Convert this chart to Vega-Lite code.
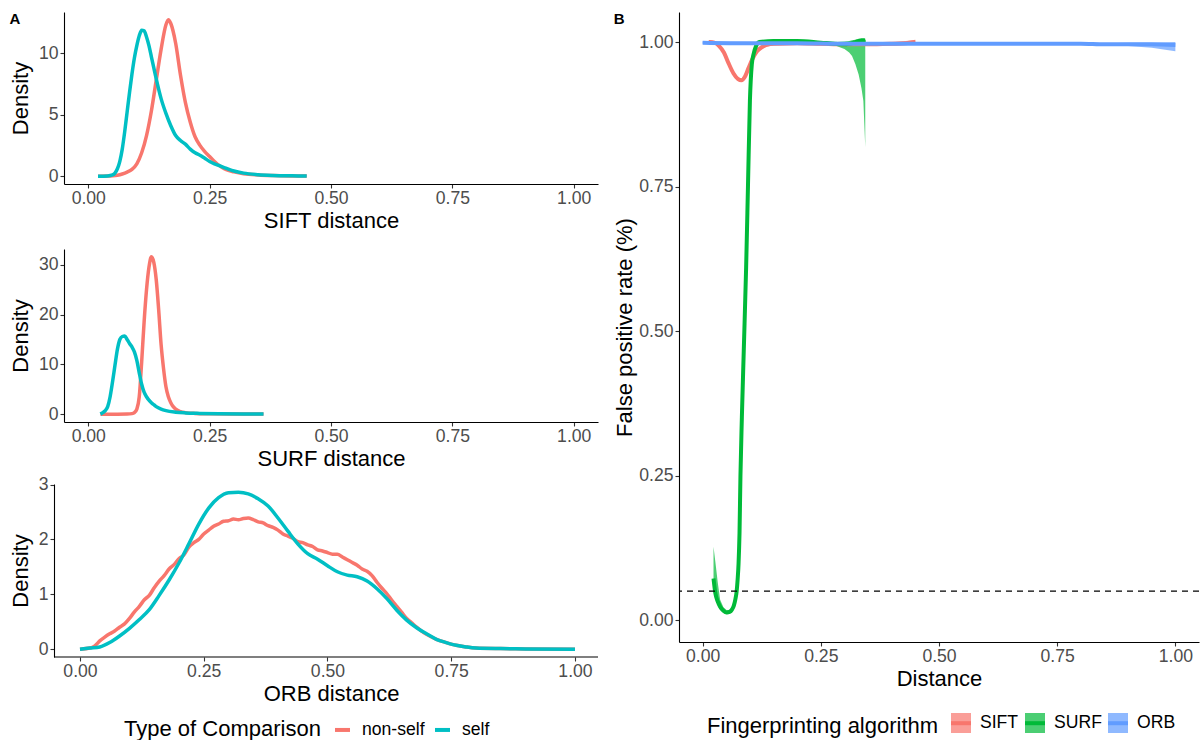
{
  "$schema": "https://vega.github.io/schema/vega-lite/v6.json",
  "padding": {"left": 9, "top": 12, "right": 0, "bottom": 0},
  "autosize": {"type": "pad"},
  "config": {
    "view": {"stroke": null},
    "font": "Liberation Sans",
    "axis": {"grid": false, "domainColor": "#000000", "domainWidth": 1.1, "tickColor": "#333333", "tickWidth": 1.1, "tickSize": 4, "labelFontSize": 17.6, "labelColor": "#4D4D4D", "labelFont": "Liberation Sans", "titleFont": "Liberation Sans", "titleFontSize": 22, "titleFontWeight": "normal", "titleColor": "#000000"},
    "axisX": {"labelPadding": 1, "titlePadding": 4},
    "axisY": {"labelPadding": 2, "titlePadding": 6},
    "legend": {"labelFont": "Liberation Sans", "labelFontSize": 17.6, "labelColor": "#000000", "titleFont": "Liberation Sans", "titleFontSize": 22, "titleFontWeight": "normal", "titleColor": "#000000", "titleLimit": 400, "labelLimit": 200},
    "title": {"font": "Liberation Sans", "fontSize": 15, "fontWeight": "bold", "color": "#000000", "anchor": "start", "frame": "bounds", "offset": -15}
  },
  "datasets": {
    "sift": [
      {"type": "non-self", "d": 0.02, "density": 0}, {"type": "non-self", "d": 0.04, "density": 0.01}, {"type": "non-self", "d": 0.05, "density": 0.03}, {"type": "non-self", "d": 0.06, "density": 0.08}, {"type": "non-self", "d": 0.07, "density": 0.18}, {"type": "non-self", "d": 0.08, "density": 0.33}, {"type": "non-self", "d": 0.09, "density": 0.55}, {"type": "non-self", "d": 0.1, "density": 1.0}, {"type": "non-self", "d": 0.11, "density": 1.9}, {"type": "non-self", "d": 0.12, "density": 3.3}, {"type": "non-self", "d": 0.13, "density": 5.3}, {"type": "non-self", "d": 0.14, "density": 7.8}, {"type": "non-self", "d": 0.15, "density": 10.3}, {"type": "non-self", "d": 0.16, "density": 12.3}, {"type": "non-self", "d": 0.165, "density": 12.7}, {"type": "non-self", "d": 0.17, "density": 12.4}, {"type": "non-self", "d": 0.18, "density": 10.8}, {"type": "non-self", "d": 0.19, "density": 8.2}, {"type": "non-self", "d": 0.2, "density": 6.0}, {"type": "non-self", "d": 0.21, "density": 4.4}, {"type": "non-self", "d": 0.22, "density": 3.2}, {"type": "non-self", "d": 0.23, "density": 2.5}, {"type": "non-self", "d": 0.24, "density": 2.0}, {"type": "non-self", "d": 0.25, "density": 1.6}, {"type": "non-self", "d": 0.26, "density": 1.2}, {"type": "non-self", "d": 0.27, "density": 0.85}, {"type": "non-self", "d": 0.28, "density": 0.6}, {"type": "non-self", "d": 0.29, "density": 0.45}, {"type": "non-self", "d": 0.3, "density": 0.35}, {"type": "non-self", "d": 0.32, "density": 0.2}, {"type": "non-self", "d": 0.35, "density": 0.1}, {"type": "non-self", "d": 0.38, "density": 0.05}, {"type": "non-self", "d": 0.42, "density": 0.02}, {"type": "non-self", "d": 0.45, "density": 0.01},
      {"type": "self", "d": 0.02, "density": 0}, {"type": "self", "d": 0.04, "density": 0.02}, {"type": "self", "d": 0.05, "density": 0.1}, {"type": "self", "d": 0.055, "density": 0.25}, {"type": "self", "d": 0.06, "density": 0.6}, {"type": "self", "d": 0.065, "density": 1.2}, {"type": "self", "d": 0.07, "density": 2.2}, {"type": "self", "d": 0.075, "density": 3.6}, {"type": "self", "d": 0.08, "density": 5.2}, {"type": "self", "d": 0.085, "density": 6.8}, {"type": "self", "d": 0.09, "density": 8.3}, {"type": "self", "d": 0.095, "density": 9.6}, {"type": "self", "d": 0.1, "density": 10.6}, {"type": "self", "d": 0.105, "density": 11.4}, {"type": "self", "d": 0.11, "density": 11.85}, {"type": "self", "d": 0.115, "density": 11.8}, {"type": "self", "d": 0.12, "density": 11.3}, {"type": "self", "d": 0.125, "density": 10.6}, {"type": "self", "d": 0.13, "density": 9.7}, {"type": "self", "d": 0.135, "density": 8.8}, {"type": "self", "d": 0.14, "density": 7.9}, {"type": "self", "d": 0.15, "density": 6.3}, {"type": "self", "d": 0.16, "density": 5.1}, {"type": "self", "d": 0.17, "density": 4.1}, {"type": "self", "d": 0.18, "density": 3.3}, {"type": "self", "d": 0.19, "density": 2.9}, {"type": "self", "d": 0.2, "density": 2.6}, {"type": "self", "d": 0.21, "density": 2.2}, {"type": "self", "d": 0.22, "density": 1.9}, {"type": "self", "d": 0.23, "density": 1.7}, {"type": "self", "d": 0.24, "density": 1.45}, {"type": "self", "d": 0.25, "density": 1.2}, {"type": "self", "d": 0.26, "density": 1.0}, {"type": "self", "d": 0.27, "density": 0.85}, {"type": "self", "d": 0.28, "density": 0.7}, {"type": "self", "d": 0.29, "density": 0.55}, {"type": "self", "d": 0.3, "density": 0.42}, {"type": "self", "d": 0.32, "density": 0.25}, {"type": "self", "d": 0.35, "density": 0.12}, {"type": "self", "d": 0.38, "density": 0.06}, {"type": "self", "d": 0.42, "density": 0.03}, {"type": "self", "d": 0.45, "density": 0.02}
    ],
    "surf": [
      {"type": "non-self", "d": 0.025, "density": 0}, {"type": "non-self", "d": 0.06, "density": 0}, {"type": "non-self", "d": 0.08, "density": 0.02}, {"type": "non-self", "d": 0.09, "density": 0.1}, {"type": "non-self", "d": 0.095, "density": 0.3}, {"type": "non-self", "d": 0.1, "density": 1.0}, {"type": "non-self", "d": 0.105, "density": 3.5}, {"type": "non-self", "d": 0.11, "density": 10.5}, {"type": "non-self", "d": 0.115, "density": 18.5}, {"type": "non-self", "d": 0.12, "density": 25}, {"type": "non-self", "d": 0.125, "density": 29.5}, {"type": "non-self", "d": 0.13, "density": 31.6}, {"type": "non-self", "d": 0.135, "density": 30.5}, {"type": "non-self", "d": 0.14, "density": 27}, {"type": "non-self", "d": 0.145, "density": 21}, {"type": "non-self", "d": 0.15, "density": 14}, {"type": "non-self", "d": 0.155, "density": 9.2}, {"type": "non-self", "d": 0.16, "density": 5.5}, {"type": "non-self", "d": 0.165, "density": 3.5}, {"type": "non-self", "d": 0.17, "density": 2.3}, {"type": "non-self", "d": 0.175, "density": 1.5}, {"type": "non-self", "d": 0.18, "density": 1.0}, {"type": "non-self", "d": 0.19, "density": 0.5}, {"type": "non-self", "d": 0.2, "density": 0.3}, {"type": "non-self", "d": 0.22, "density": 0.15}, {"type": "non-self", "d": 0.25, "density": 0.08}, {"type": "non-self", "d": 0.3, "density": 0.03}, {"type": "non-self", "d": 0.361, "density": 0.01},
      {"type": "self", "d": 0.025, "density": 0}, {"type": "self", "d": 0.03, "density": 0.3}, {"type": "self", "d": 0.035, "density": 0.7}, {"type": "self", "d": 0.04, "density": 1.5}, {"type": "self", "d": 0.045, "density": 3.5}, {"type": "self", "d": 0.05, "density": 6.5}, {"type": "self", "d": 0.055, "density": 9.8}, {"type": "self", "d": 0.06, "density": 13}, {"type": "self", "d": 0.065, "density": 15}, {"type": "self", "d": 0.07, "density": 15.6}, {"type": "self", "d": 0.075, "density": 15.7}, {"type": "self", "d": 0.08, "density": 15}, {"type": "self", "d": 0.085, "density": 14.2}, {"type": "self", "d": 0.09, "density": 13.5}, {"type": "self", "d": 0.095, "density": 12.5}, {"type": "self", "d": 0.1, "density": 10.8}, {"type": "self", "d": 0.105, "density": 8.3}, {"type": "self", "d": 0.11, "density": 6.0}, {"type": "self", "d": 0.115, "density": 4.4}, {"type": "self", "d": 0.12, "density": 3.5}, {"type": "self", "d": 0.125, "density": 2.8}, {"type": "self", "d": 0.13, "density": 2.3}, {"type": "self", "d": 0.135, "density": 1.9}, {"type": "self", "d": 0.14, "density": 1.5}, {"type": "self", "d": 0.15, "density": 1.0}, {"type": "self", "d": 0.16, "density": 0.7}, {"type": "self", "d": 0.18, "density": 0.4}, {"type": "self", "d": 0.2, "density": 0.25}, {"type": "self", "d": 0.23, "density": 0.15}, {"type": "self", "d": 0.27, "density": 0.08}, {"type": "self", "d": 0.32, "density": 0.03}, {"type": "self", "d": 0.361, "density": 0.01}
    ],
    "orb": [
      {"type": "non-self", "d": 0.0, "density": 0}, {"type": "non-self", "d": 0.02, "density": 0.02}, {"type": "non-self", "d": 0.03, "density": 0.06}, {"type": "non-self", "d": 0.04, "density": 0.15}, {"type": "non-self", "d": 0.05, "density": 0.22}, {"type": "non-self", "d": 0.06, "density": 0.28}, {"type": "non-self", "d": 0.07, "density": 0.33}, {"type": "non-self", "d": 0.08, "density": 0.4}, {"type": "non-self", "d": 0.09, "density": 0.46}, {"type": "non-self", "d": 0.1, "density": 0.56}, {"type": "non-self", "d": 0.11, "density": 0.68}, {"type": "non-self", "d": 0.12, "density": 0.78}, {"type": "non-self", "d": 0.13, "density": 0.9}, {"type": "non-self", "d": 0.14, "density": 0.98}, {"type": "non-self", "d": 0.15, "density": 1.12}, {"type": "non-self", "d": 0.16, "density": 1.24}, {"type": "non-self", "d": 0.17, "density": 1.34}, {"type": "non-self", "d": 0.18, "density": 1.46}, {"type": "non-self", "d": 0.19, "density": 1.54}, {"type": "non-self", "d": 0.2, "density": 1.65}, {"type": "non-self", "d": 0.21, "density": 1.72}, {"type": "non-self", "d": 0.22, "density": 1.86}, {"type": "non-self", "d": 0.23, "density": 1.94}, {"type": "non-self", "d": 0.24, "density": 2.0}, {"type": "non-self", "d": 0.25, "density": 2.1}, {"type": "non-self", "d": 0.26, "density": 2.17}, {"type": "non-self", "d": 0.27, "density": 2.24}, {"type": "non-self", "d": 0.28, "density": 2.28}, {"type": "non-self", "d": 0.29, "density": 2.33}, {"type": "non-self", "d": 0.3, "density": 2.34}, {"type": "non-self", "d": 0.31, "density": 2.37}, {"type": "non-self", "d": 0.32, "density": 2.36}, {"type": "non-self", "d": 0.33, "density": 2.38}, {"type": "non-self", "d": 0.34, "density": 2.39}, {"type": "non-self", "d": 0.35, "density": 2.36}, {"type": "non-self", "d": 0.36, "density": 2.32}, {"type": "non-self", "d": 0.37, "density": 2.3}, {"type": "non-self", "d": 0.38, "density": 2.25}, {"type": "non-self", "d": 0.39, "density": 2.22}, {"type": "non-self", "d": 0.4, "density": 2.17}, {"type": "non-self", "d": 0.41, "density": 2.1}, {"type": "non-self", "d": 0.42, "density": 2.06}, {"type": "non-self", "d": 0.43, "density": 2.02}, {"type": "non-self", "d": 0.44, "density": 1.96}, {"type": "non-self", "d": 0.45, "density": 1.94}, {"type": "non-self", "d": 0.46, "density": 1.9}, {"type": "non-self", "d": 0.47, "density": 1.87}, {"type": "non-self", "d": 0.48, "density": 1.81}, {"type": "non-self", "d": 0.49, "density": 1.79}, {"type": "non-self", "d": 0.5, "density": 1.76}, {"type": "non-self", "d": 0.51, "density": 1.73}, {"type": "non-self", "d": 0.52, "density": 1.73}, {"type": "non-self", "d": 0.53, "density": 1.68}, {"type": "non-self", "d": 0.54, "density": 1.63}, {"type": "non-self", "d": 0.55, "density": 1.58}, {"type": "non-self", "d": 0.56, "density": 1.53}, {"type": "non-self", "d": 0.57, "density": 1.46}, {"type": "non-self", "d": 0.58, "density": 1.42}, {"type": "non-self", "d": 0.59, "density": 1.34}, {"type": "non-self", "d": 0.6, "density": 1.22}, {"type": "non-self", "d": 0.61, "density": 1.11}, {"type": "non-self", "d": 0.62, "density": 1.01}, {"type": "non-self", "d": 0.63, "density": 0.89}, {"type": "non-self", "d": 0.64, "density": 0.78}, {"type": "non-self", "d": 0.65, "density": 0.67}, {"type": "non-self", "d": 0.66, "density": 0.56}, {"type": "non-self", "d": 0.67, "density": 0.48}, {"type": "non-self", "d": 0.68, "density": 0.4}, {"type": "non-self", "d": 0.69, "density": 0.33}, {"type": "non-self", "d": 0.7, "density": 0.27}, {"type": "non-self", "d": 0.72, "density": 0.18}, {"type": "non-self", "d": 0.74, "density": 0.12}, {"type": "non-self", "d": 0.76, "density": 0.07}, {"type": "non-self", "d": 0.78, "density": 0.04}, {"type": "non-self", "d": 0.8, "density": 0.02}, {"type": "non-self", "d": 0.85, "density": 0.01}, {"type": "non-self", "d": 0.9, "density": 0.005}, {"type": "non-self", "d": 1.0, "density": 0},
      {"type": "self", "d": 0.0, "density": 0}, {"type": "self", "d": 0.02, "density": 0.02}, {"type": "self", "d": 0.04, "density": 0.04}, {"type": "self", "d": 0.06, "density": 0.12}, {"type": "self", "d": 0.08, "density": 0.24}, {"type": "self", "d": 0.1, "density": 0.38}, {"type": "self", "d": 0.12, "density": 0.54}, {"type": "self", "d": 0.14, "density": 0.72}, {"type": "self", "d": 0.16, "density": 0.98}, {"type": "self", "d": 0.18, "density": 1.26}, {"type": "self", "d": 0.2, "density": 1.57}, {"type": "self", "d": 0.22, "density": 1.92}, {"type": "self", "d": 0.24, "density": 2.28}, {"type": "self", "d": 0.26, "density": 2.57}, {"type": "self", "d": 0.28, "density": 2.76}, {"type": "self", "d": 0.3, "density": 2.85}, {"type": "self", "d": 0.32, "density": 2.86}, {"type": "self", "d": 0.34, "density": 2.83}, {"type": "self", "d": 0.36, "density": 2.74}, {"type": "self", "d": 0.38, "density": 2.61}, {"type": "self", "d": 0.4, "density": 2.39}, {"type": "self", "d": 0.42, "density": 2.15}, {"type": "self", "d": 0.44, "density": 1.92}, {"type": "self", "d": 0.46, "density": 1.74}, {"type": "self", "d": 0.48, "density": 1.64}, {"type": "self", "d": 0.5, "density": 1.52}, {"type": "self", "d": 0.52, "density": 1.41}, {"type": "self", "d": 0.54, "density": 1.35}, {"type": "self", "d": 0.56, "density": 1.32}, {"type": "self", "d": 0.58, "density": 1.24}, {"type": "self", "d": 0.6, "density": 1.1}, {"type": "self", "d": 0.62, "density": 0.92}, {"type": "self", "d": 0.64, "density": 0.71}, {"type": "self", "d": 0.66, "density": 0.53}, {"type": "self", "d": 0.68, "density": 0.39}, {"type": "self", "d": 0.7, "density": 0.28}, {"type": "self", "d": 0.72, "density": 0.18}, {"type": "self", "d": 0.74, "density": 0.12}, {"type": "self", "d": 0.76, "density": 0.07}, {"type": "self", "d": 0.78, "density": 0.04}, {"type": "self", "d": 0.8, "density": 0.02}, {"type": "self", "d": 0.85, "density": 0.01}, {"type": "self", "d": 0.9, "density": 0.005}, {"type": "self", "d": 1.0, "density": 0}
    ],
    "fpr": [
      {"algorithm": "SIFT", "distance": 0.013, "rate": 1.0, "lower": 0.997, "upper": 1.003}, {"algorithm": "SIFT", "distance": 0.025, "rate": 0.999, "lower": 0.996, "upper": 1.002}, {"algorithm": "SIFT", "distance": 0.035, "rate": 0.993, "lower": 0.99, "upper": 0.996}, {"algorithm": "SIFT", "distance": 0.045, "rate": 0.982, "lower": 0.979, "upper": 0.985}, {"algorithm": "SIFT", "distance": 0.055, "rate": 0.963, "lower": 0.96, "upper": 0.966}, {"algorithm": "SIFT", "distance": 0.065, "rate": 0.946, "lower": 0.943, "upper": 0.949}, {"algorithm": "SIFT", "distance": 0.075, "rate": 0.936, "lower": 0.933, "upper": 0.939}, {"algorithm": "SIFT", "distance": 0.082, "rate": 0.934, "lower": 0.931, "upper": 0.937}, {"algorithm": "SIFT", "distance": 0.09, "rate": 0.941, "lower": 0.938, "upper": 0.944}, {"algorithm": "SIFT", "distance": 0.097, "rate": 0.955, "lower": 0.952, "upper": 0.958}, {"algorithm": "SIFT", "distance": 0.105, "rate": 0.97, "lower": 0.967, "upper": 0.973}, {"algorithm": "SIFT", "distance": 0.115, "rate": 0.984, "lower": 0.981, "upper": 0.987}, {"algorithm": "SIFT", "distance": 0.125, "rate": 0.991, "lower": 0.988, "upper": 0.994}, {"algorithm": "SIFT", "distance": 0.135, "rate": 0.995, "lower": 0.992, "upper": 0.998}, {"algorithm": "SIFT", "distance": 0.15, "rate": 0.997, "lower": 0.994, "upper": 1.0}, {"algorithm": "SIFT", "distance": 0.2, "rate": 0.998, "lower": 0.995, "upper": 1.001}, {"algorithm": "SIFT", "distance": 0.25, "rate": 0.997, "lower": 0.994, "upper": 1.0}, {"algorithm": "SIFT", "distance": 0.3, "rate": 0.996, "lower": 0.993, "upper": 0.999}, {"algorithm": "SIFT", "distance": 0.35, "rate": 0.996, "lower": 0.993, "upper": 0.999}, {"algorithm": "SIFT", "distance": 0.4, "rate": 0.997, "lower": 0.994, "upper": 1.0}, {"algorithm": "SIFT", "distance": 0.43, "rate": 0.998, "lower": 0.995, "upper": 1.002}, {"algorithm": "SIFT", "distance": 0.45, "rate": 1.0, "lower": 0.996, "upper": 1.004},
      {"algorithm": "SURF", "distance": 0.023, "rate": 0.072, "lower": 0.06, "upper": 0.127}, {"algorithm": "SURF", "distance": 0.027, "rate": 0.046, "lower": 0.038, "upper": 0.1}, {"algorithm": "SURF", "distance": 0.032, "rate": 0.032, "lower": 0.027, "upper": 0.065}, {"algorithm": "SURF", "distance": 0.037, "rate": 0.023, "lower": 0.019, "upper": 0.035}, {"algorithm": "SURF", "distance": 0.044, "rate": 0.016, "lower": 0.013, "upper": 0.022}, {"algorithm": "SURF", "distance": 0.051, "rate": 0.013, "lower": 0.01, "upper": 0.017}, {"algorithm": "SURF", "distance": 0.057, "rate": 0.014, "lower": 0.011, "upper": 0.018}, {"algorithm": "SURF", "distance": 0.062, "rate": 0.018, "lower": 0.014, "upper": 0.022}, {"algorithm": "SURF", "distance": 0.066, "rate": 0.025, "lower": 0.02, "upper": 0.03}, {"algorithm": "SURF", "distance": 0.069, "rate": 0.035, "lower": 0.029, "upper": 0.041}, {"algorithm": "SURF", "distance": 0.072, "rate": 0.05, "lower": 0.043, "upper": 0.057}, {"algorithm": "SURF", "distance": 0.074, "rate": 0.07, "lower": 0.062, "upper": 0.078}, {"algorithm": "SURF", "distance": 0.076, "rate": 0.098, "lower": 0.088, "upper": 0.108}, {"algorithm": "SURF", "distance": 0.078, "rate": 0.15, "lower": 0.138, "upper": 0.162}, {"algorithm": "SURF", "distance": 0.08, "rate": 0.25, "lower": 0.235, "upper": 0.265}, {"algorithm": "SURF", "distance": 0.083, "rate": 0.351, "lower": 0.335, "upper": 0.367}, {"algorithm": "SURF", "distance": 0.087, "rate": 0.466, "lower": 0.45, "upper": 0.482}, {"algorithm": "SURF", "distance": 0.092, "rate": 0.61, "lower": 0.595, "upper": 0.625}, {"algorithm": "SURF", "distance": 0.096, "rate": 0.754, "lower": 0.74, "upper": 0.768}, {"algorithm": "SURF", "distance": 0.1, "rate": 0.898, "lower": 0.888, "upper": 0.908}, {"algorithm": "SURF", "distance": 0.104, "rate": 0.961, "lower": 0.955, "upper": 0.967}, {"algorithm": "SURF", "distance": 0.108, "rate": 0.98, "lower": 0.976, "upper": 0.984}, {"algorithm": "SURF", "distance": 0.113, "rate": 0.993, "lower": 0.99, "upper": 0.996}, {"algorithm": "SURF", "distance": 0.12, "rate": 1.0, "lower": 0.998, "upper": 1.002}, {"algorithm": "SURF", "distance": 0.15, "rate": 1.002, "lower": 1.0, "upper": 1.004}, {"algorithm": "SURF", "distance": 0.2, "rate": 1.002, "lower": 1.0, "upper": 1.004}, {"algorithm": "SURF", "distance": 0.25, "rate": 0.999, "lower": 0.997, "upper": 1.001}, {"algorithm": "SURF", "distance": 0.28, "rate": 0.997, "lower": 0.994, "upper": 1.0}, {"algorithm": "SURF", "distance": 0.3, "rate": 0.996, "lower": 0.988, "upper": 1.001}, {"algorithm": "SURF", "distance": 0.31, "rate": 0.997, "lower": 0.982, "upper": 1.002}, {"algorithm": "SURF", "distance": 0.316, "rate": 0.998, "lower": 0.976, "upper": 1.003}, {"algorithm": "SURF", "distance": 0.323, "rate": 1.0, "lower": 0.962, "upper": 1.004}, {"algorithm": "SURF", "distance": 0.33, "rate": 1.002, "lower": 0.944, "upper": 1.005}, {"algorithm": "SURF", "distance": 0.336, "rate": 1.003, "lower": 0.92, "upper": 1.005}, {"algorithm": "SURF", "distance": 0.34, "rate": 1.003, "lower": 0.898, "upper": 1.005}, {"algorithm": "SURF", "distance": 0.344, "rate": 1.004, "lower": 0.818, "upper": 1.006},
      {"algorithm": "ORB", "distance": 0.0, "rate": 0.999, "lower": 0.997, "upper": 1.001}, {"algorithm": "ORB", "distance": 0.1, "rate": 0.998, "lower": 0.996, "upper": 1.0}, {"algorithm": "ORB", "distance": 0.2, "rate": 0.998, "lower": 0.996, "upper": 1.0}, {"algorithm": "ORB", "distance": 0.3, "rate": 0.997, "lower": 0.995, "upper": 0.999}, {"algorithm": "ORB", "distance": 0.4, "rate": 0.997, "lower": 0.995, "upper": 0.999}, {"algorithm": "ORB", "distance": 0.5, "rate": 0.997, "lower": 0.995, "upper": 0.999}, {"algorithm": "ORB", "distance": 0.6, "rate": 0.997, "lower": 0.995, "upper": 0.999}, {"algorithm": "ORB", "distance": 0.7, "rate": 0.997, "lower": 0.995, "upper": 0.999}, {"algorithm": "ORB", "distance": 0.8, "rate": 0.997, "lower": 0.995, "upper": 0.999}, {"algorithm": "ORB", "distance": 0.85, "rate": 0.996, "lower": 0.994, "upper": 0.998}, {"algorithm": "ORB", "distance": 0.9, "rate": 0.996, "lower": 0.993, "upper": 0.999}, {"algorithm": "ORB", "distance": 0.95, "rate": 0.996, "lower": 0.99, "upper": 0.999}, {"algorithm": "ORB", "distance": 1.0, "rate": 0.995, "lower": 0.984, "upper": 1.0}
    ]
  },
  "hconcat": [
    {
      "concat": [
        {
          "width": 534, "height": 172,
          "data": {"name": "sift"},
          "title": {"text": "A"},
          "mark": {"type": "line", "strokeWidth": 3.5, "interpolate": "monotone"},
          "encoding": {
            "x": {"field": "d", "type": "quantitative", "title": "SIFT distance", "scale": {"domain": [-0.05, 1.05], "nice": false, "zero": false}, "axis": {"values": [0, 0.25, 0.5, 0.75, 1], "format": ".2f"}},
            "y": {"field": "density", "type": "quantitative", "title": "Density", "scale": {"domain": [-0.635, 13.335], "nice": false, "zero": false}, "axis": {"values": [0, 5, 10], "format": "d"}},
            "color": {"field": "type", "type": "nominal", "scale": {"domain": ["non-self", "self"], "range": ["#F8766D", "#00BFC4"]}, "legend": null}
          }
        },
        {
          "width": 534, "height": 173,
          "data": {"name": "surf"},
          "title": {"text": " ", "fontSize": 10, "baseline": "top", "offset": 1.5},
          "mark": {"type": "line", "strokeWidth": 3.5, "interpolate": "monotone"},
          "encoding": {
            "x": {"field": "d", "type": "quantitative", "title": "SURF distance", "scale": {"domain": [-0.05, 1.05], "nice": false, "zero": false}, "axis": {"values": [0, 0.25, 0.5, 0.75, 1], "format": ".2f"}},
            "y": {"field": "density", "type": "quantitative", "title": "Density", "scale": {"domain": [-1.58, 33.18], "nice": false, "zero": false}, "axis": {"values": [0, 10, 20, 30], "format": "d"}},
            "color": {"field": "type", "type": "nominal", "scale": {"domain": ["non-self", "self"], "range": ["#F8766D", "#00BFC4"]}, "legend": null}
          }
        },
        {
          "width": 534, "height": 173,
          "layer": [
            {
              "data": {"name": "orb"},
              "mark": {"type": "line", "strokeWidth": 3.5, "interpolate": "monotone"},
              "encoding": {
                "x": {"field": "d", "type": "quantitative", "title": "ORB distance", "scale": {"domain": [-0.0323, 1.0465], "nice": false, "zero": false}, "axis": {"values": [0, 0.25, 0.5, 0.75, 1], "format": ".2f", "domain": false}},
                "y": {"field": "density", "type": "quantitative", "title": "Density", "scale": {"domain": [-0.143, 3.01], "nice": false, "zero": false}, "axis": {"values": [0, 1, 2, 3], "format": "d", "offset": 10}},
                "color": {"field": "type", "type": "nominal", "scale": {"domain": ["non-self", "self"], "range": ["#F8766D", "#00BFC4"]}, "legend": {"title": "Type of Comparison", "orient": "none", "legendX": 60, "legendY": 236, "direction": "horizontal", "titleOrient": "left", "symbolType": "stroke", "symbolSize": 225, "symbolStrokeWidth": 4, "labelOffset": 10, "columnPadding": 2, "titlePadding": 12}}
              }
            },
            {
              "data": {"values": [{"start": -0.0525, "end": 1.0465, "base": -0.143}]},
              "mark": {"type": "rule", "color": "#000000", "strokeWidth": 1.1},
              "encoding": {
                "x": {"field": "start", "type": "quantitative", "title": "ORB distance"},
                "x2": {"field": "end"},
                "y": {"field": "base", "type": "quantitative", "title": "Density"}
              }
            }
          ]
        }
      ],
      "columns": 1,
      "spacing": 5,
      "resolve": {"scale": {"color": "independent"}, "legend": {"color": "independent"}}
    },
    {
      "width": 520, "height": 630,
      "title": {"text": "B"},
      "layer": [
        {
          "data": {"name": "fpr"},
          "mark": {"type": "area", "fillOpacity": 0.7, "strokeWidth": 0},
          "encoding": {
            "x": {"field": "distance", "type": "quantitative", "title": "Distance", "scale": {"domain": [-0.05, 1.05], "nice": false, "zero": false}, "axis": {"values": [0, 0.25, 0.5, 0.75, 1], "format": ".2f"}},
            "y": {"field": "lower", "type": "quantitative", "stack": null, "title": "False positive rate (%)", "scale": {"domain": [-0.038, 1.052], "nice": false, "zero": false}, "axis": {"values": [0, 0.25, 0.5, 0.75, 1], "format": ".2f", "titlePadding": 2}},
            "y2": {"field": "upper"},
            "fill": {"field": "algorithm", "type": "nominal", "sort": ["SIFT", "SURF", "ORB"], "scale": {"range": ["#F8766D", "#00BA38", "#619CFF"]}, "legend": {"title": "Fingerprinting algorithm", "orient": "none", "legendX": 28, "legendY": 699, "direction": "horizontal", "titleOrient": "left", "symbolType": "square", "symbolSize": 400, "symbolOpacity": 0.7, "symbolStrokeColor": "transparent", "symbolStrokeWidth": 4, "labelOffset": 7, "columnPadding": -2, "titlePadding": 10}}
          }
        },
        {
          "data": {"name": "fpr"},
          "mark": {"type": "line", "strokeWidth": 4, "interpolate": "monotone"},
          "encoding": {
            "x": {"field": "distance", "type": "quantitative", "title": "Distance"},
            "y": {"field": "rate", "type": "quantitative", "title": "False positive rate (%)"},
            "stroke": {"field": "algorithm", "type": "nominal", "scale": {"domain": ["SIFT", "SURF", "ORB"], "range": ["#F8766D", "#00BA38", "#619CFF"]}, "legend": {"title": "Fingerprinting algorithm", "orient": "none", "legendX": 28, "legendY": 699, "direction": "horizontal", "titleOrient": "left", "symbolType": "stroke", "symbolSize": 400, "symbolStrokeWidth": 4, "labelOffset": 7, "columnPadding": -2, "titlePadding": 10, "titleOpacity": 0, "labelOpacity": 0}}
          }
        },
        {
          "data": {"values": [{"threshold": 0.05}]},
          "mark": {"type": "rule", "strokeDash": [6, 5], "strokeWidth": 1.2, "color": "#000000"},
          "encoding": {
            "y": {"field": "threshold", "type": "quantitative", "title": "False positive rate (%)"}
          }
        }
      ]
    }
  ],
  "spacing": 14,
  "resolve": {"scale": {"fill": "independent", "stroke": "independent"}, "legend": {"fill": "independent", "stroke": "independent"}}
}
